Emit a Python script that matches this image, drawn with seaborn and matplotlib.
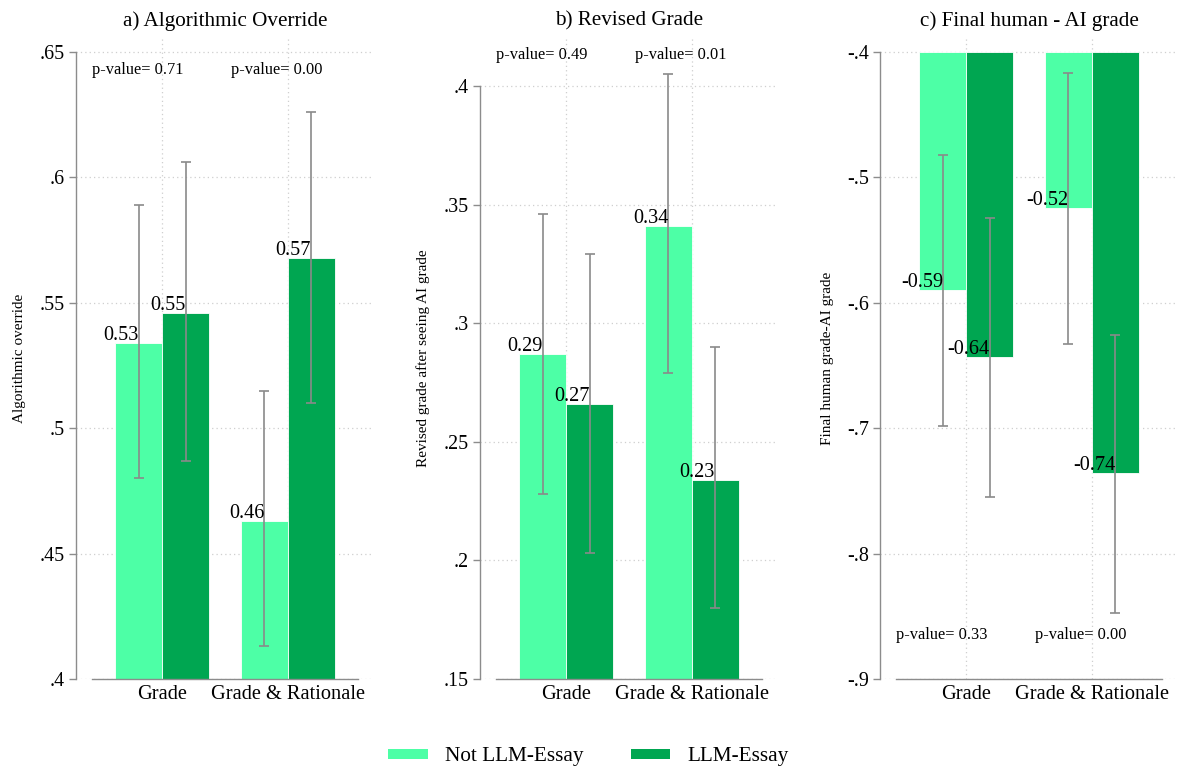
import matplotlib
matplotlib.use("Agg")
import matplotlib.pyplot as plt
import numpy as np
import pandas as pd
import seaborn as sns
from matplotlib.patches import Patch

# ---- data -------------------------------------------------------------
conditions = ["Grade", "Grade & Rationale"]
groups = ["Not LLM-Essay", "LLM-Essay"]
group_colors = ["#4dffa6", "#00a651"]

# a) Algorithmic override
override_not = [0.534, 0.463]
override_llm = [0.546, 0.568]
override_lo_not = [0.480, 0.413]
override_hi_not = [0.589, 0.515]
override_lo_llm = [0.487, 0.510]
override_hi_llm = [0.606, 0.626]
override_pvals = ["0.71", "0.00"]
override_ticks = [0.4, 0.45, 0.5, 0.55, 0.6, 0.65]

# b) Revised grade
revised_not = [0.287, 0.341]
revised_llm = [0.266, 0.234]
revised_lo_not = [0.228, 0.279]
revised_hi_not = [0.346, 0.405]
revised_lo_llm = [0.203, 0.180]
revised_hi_llm = [0.329, 0.290]
revised_pvals = ["0.49", "0.01"]
revised_ticks = [0.15, 0.2, 0.25, 0.3, 0.35, 0.4]

# c) Final human - AI grade
final_not = [-0.590, -0.524]
final_llm = [-0.643, -0.736]
final_lo_not = [-0.698, -0.633]
final_hi_not = [-0.482, -0.417]
final_lo_llm = [-0.755, -0.847]
final_hi_llm = [-0.532, -0.626]
final_pvals = ["0.33", "0.00"]
final_ticks = [-0.9, -0.8, -0.7, -0.6, -0.5, -0.4]

# left edge (x, in category units) of each p-value note
pval_x = [-0.56, 0.55]

panels = [
    dict(title="a) Algorithmic Override", ylabel="Algorithmic override",
         vals=(override_not, override_llm),
         lo=(override_lo_not, override_lo_llm), hi=(override_hi_not, override_hi_llm),
         pvals=override_pvals, ticks=override_ticks,
         ylim=(0.4, 0.656), p_y=0.6428, base=None, left=76, ylab_x=-0.168),
    dict(title="b) Revised Grade", ylabel="Revised grade after seeing AI grade",
         vals=(revised_not, revised_llm),
         lo=(revised_lo_not, revised_lo_llm), hi=(revised_hi_not, revised_hi_llm),
         pvals=revised_pvals, ticks=revised_ticks,
         ylim=(0.15, 0.4207), p_y=0.413, base=None, left=480, ylab_x=-0.168),
    dict(title="c) Final human - AI grade", ylabel="Final human grade-AI grade",
         vals=(final_not, final_llm),
         lo=(final_lo_not, final_lo_llm), hi=(final_hi_not, final_hi_llm),
         pvals=final_pvals, ticks=final_ticks,
         ylim=(-0.9, -0.388), p_y=-0.865, base=-0.4, left=880, ylab_x=-0.156),
]

# ---- style ------------------------------------------------------------
sns.set_theme(style="white")
plt.rcParams["font.family"] = ["Liberation Serif", "DejaVu Serif"]
plt.rcParams.update({
    "axes.linewidth": 1.0,
    "text.color": "black",
    "axes.labelcolor": "black",
    "xtick.labelcolor": "black",
    "ytick.labelcolor": "black",
    "axes.titlecolor": "black",
})

W, H = 1177, 770
fig = plt.figure(figsize=(W / 100, H / 100), dpi=100)

axis_grey = "#8c8c8c"
grid_grey = "#cfcfcf"
err_grey = "#8a8a8a"


def stata_fmt(v):
    s = f"{v:g}"
    return s.replace("0.", ".")


ax_w, top_px, bot_px = 298, 37, 679
for spec in panels:
    ax = fig.add_axes([spec["left"] / W, (H - bot_px) / H, ax_w / W, (bot_px - top_px) / H])

    rows = []
    for g, series in zip(groups, spec["vals"]):
        for c, v in zip(conditions, series):
            rows.append(dict(condition=c, group=g, value=v))
    df = pd.DataFrame(rows)

    sns.barplot(data=df, x="condition", y="value", hue="group", order=conditions,
                hue_order=groups, palette=group_colors, width=0.75, errorbar=None,
                edgecolor="white", linewidth=0.6, saturation=1, legend=False, ax=ax,
                zorder=2)

    bar_containers = list(ax.containers)
    for gi, container in enumerate(bar_containers):
        xs = [p.get_x() + p.get_width() / 2 for p in container.patches]
        vals = np.array(spec["vals"][gi])
        if spec["base"] is not None:
            # bars hang from the top of the value range
            for p, v in zip(container.patches, vals):
                p.set_y(spec["base"])
                p.set_height(v - spec["base"])
        lo = np.array(spec["lo"][gi])
        hi = np.array(spec["hi"][gi])
        ax.errorbar(xs, vals, yerr=[vals - lo, hi - vals], fmt="none",
                    ecolor=err_grey, elinewidth=1.2, capsize=3.5, capthick=1.2,
                    zorder=3)
        for x, v in zip(xs, vals):
            ax.annotate(f"{v:.2f}", xy=(x, v), xytext=(0, 5.4),
                        textcoords="offset points", ha="right", va="center",
                        fontsize=14.6, color="black", zorder=4)

    for px, pv in zip(pval_x, spec["pvals"]):
        ax.text(px, spec["p_y"], f"p-value= {pv}", ha="left", va="center",
                fontsize=11.8, color="black")

    ax.set_xlim(-0.69, 1.69)
    ax.set_ylim(*spec["ylim"])
    ax.set_yticks(spec["ticks"])
    ax.set_yticklabels([stata_fmt(t) for t in spec["ticks"]])
    ax.set_xticks(range(len(conditions)))
    ax.set_xticklabels(conditions)

    ax.grid(True, axis="both", linestyle=(0, (1, 2.5)), color=grid_grey, linewidth=0.9)
    ax.set_axisbelow(True)

    for side in ("top", "right"):
        ax.spines[side].set_visible(False)
    ax.spines["left"].set_color(axis_grey)
    ax.spines["bottom"].set_color(axis_grey)
    ax.spines["left"].set_bounds(spec["ticks"][0], spec["ticks"][-1])
    ax.spines["bottom"].set_bounds(-0.56, 1.56)

    ax.tick_params(axis="y", direction="out", length=5, width=1, color=axis_grey,
                   labelsize=14.4, pad=3, left=True)
    ax.tick_params(axis="x", length=0, labelsize=14.7, pad=4)

    ax.set_xlabel("")
    ax.set_ylabel(spec["ylabel"], fontsize=11)
    ax.yaxis.set_label_coords(spec["ylab_x"], 0.5)
    ax.set_title(spec["title"], fontsize=15.2, pad=8)

handles = [Patch(facecolor=c, edgecolor="none", label=g) for g, c in zip(groups, group_colors)]
fig.legend(handles=handles, loc="center", bbox_to_anchor=(0.5, 13 / H), ncol=2,
           frameon=False, fontsize=15.3, handlelength=1.88, handleheight=0.37,
           handletextpad=0.8, columnspacing=2.2)

fig.savefig("out.png", dpi=100, facecolor="white")
